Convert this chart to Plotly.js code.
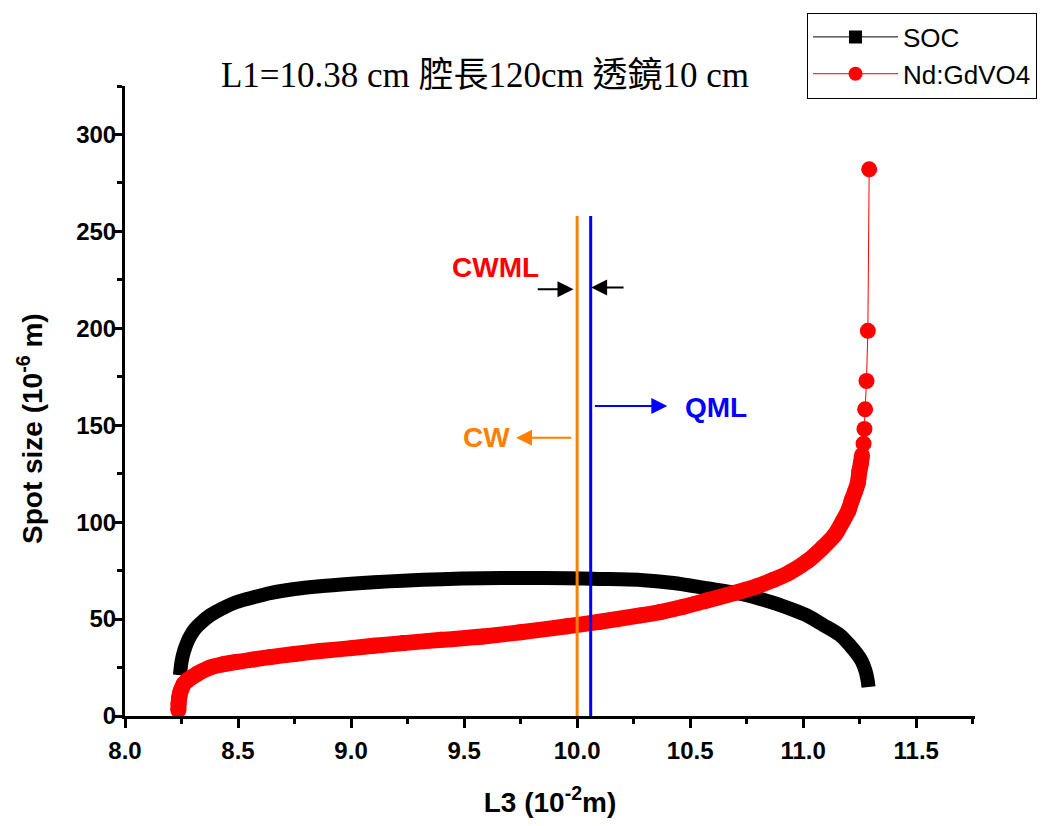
<!DOCTYPE html>
<html><head><meta charset="utf-8">
<script src="https://cdn.plot.ly/plotly-3.0.1.min.js"></script>
<style>html,body{margin:0;padding:0;background:#fff}#chart{width:1056px;height:826px}</style>
</head><body><div id="chart"></div><script>
// ---- data ----
const socX = [8.243, 8.250, 8.260, 8.275, 8.290, 8.310, 8.340, 8.376, 8.430, 8.494, 8.570, 8.642, 8.750, 8.863, 9.000, 9.100, 9.230, 9.400, 9.584, 9.750, 9.956, 10.100, 10.279, 10.426, 10.574, 10.721, 10.867, 10.950, 11.016, 11.088, 11.164, 11.210, 11.235, 11.258, 11.275, 11.285, 11.289];
const socY = [21.0, 28.0, 33.0, 38.0, 41.5, 45.0, 48.5, 51.9, 55.5, 58.8, 61.3, 63.4, 65.5, 66.9, 68.2, 69.0, 69.8, 70.6, 71.1, 71.2, 71.0, 70.7, 70.2, 68.6, 65.9, 63.1, 58.4, 55.0, 51.9, 47.0, 41.6, 36.0, 32.5, 28.5, 23.5, 18.5, 15.0];
const ndX = [8.236, 8.237, 8.240, 8.243, 8.250, 8.260, 8.275, 8.288, 8.320, 8.376, 8.430, 8.494, 8.570, 8.642, 8.750, 8.863, 9.000, 9.100, 9.230, 9.400, 9.584, 9.750, 9.956, 10.100, 10.279, 10.367, 10.470, 10.574, 10.700, 10.795, 10.870, 10.942, 11.020, 11.088, 11.140, 11.177, 11.200, 11.215, 11.230, 11.242, 11.249, 11.255, 11.260, 11.267, 11.271, 11.274, 11.280, 11.286, 11.292];
const ndY = [2.8, 6.5, 9.5, 11.6, 14.0, 16.5, 18.3, 19.4, 21.8, 25.0, 26.6, 27.9, 29.2, 30.4, 32.0, 33.5, 35.0, 36.2, 37.6, 39.3, 41.0, 43.2, 46.3, 48.6, 51.9, 53.6, 56.3, 59.6, 63.6, 66.9, 70.3, 74.2, 80.0, 87.1, 93.5, 100.9, 106.0, 111.3, 116.0, 120.5, 126.7, 130.2, 134.5, 140.5, 148.1, 158.2, 172.8, 198.7, 282.0];
const seriesNames = ['SOC', 'Nd:GdVO4'];
const titleText = 'L1=10.38 cm 腔長120cm 透鏡10 cm';
const xTitle = '<b>L3 (10<sup>-2</sup>m)</b>';
const yTitle = '<b>Spot size (10<sup>-6</sup> m)</b>';
const xTickVals = [8.0, 8.5, 9.0, 9.5, 10.0, 10.5, 11.0, 11.5];
const yTickVals = [0, 50, 100, 150, 200, 250, 300];
// marker lines (CW / QML boundaries) and annotation labels
const cwX = 10.0, qmlX = 10.06, markLineTop = 258;
const labelTexts = ['CWML', 'QML', 'CW'];
const labelX = [9.637, 10.613, 9.600];
const labelY = [231.3, 159.3, 143.8];
// arrows: tail [x, y] and head [x, y]
const arrowTail = [[9.819, 220.2], [10.212, 221.1], [10.072, 159.9], [9.981, 143.6]];
const arrowHead = [[9.984, 220.2], [10.062, 221.1], [10.399, 159.9], [9.730, 143.6]];
// ---------------------------------------------

const sansFont = 'Liberation Sans, Arial, Helvetica, sans-serif';
const denseLimit = 136; // red points above this are drawn sparse
const ndBandX = ndX.filter((v, i) => ndY[i] <= denseLimit);
const ndBandY = ndY.filter(v => v <= denseLimit);

const traces = [
  // SOC: dense squares drawn as a thick band
  {x: socX, y: socY, mode: 'lines', line: {color: '#000', width: 14, shape: 'spline', smoothing: 0.8}, showlegend: false, hoverinfo: 'skip'},
  // Nd:GdVO4: dense part as a band, plus every circle with the thin connecting line
  {x: ndBandX, y: ndBandY, mode: 'lines', line: {color: '#FF0000', width: 16, shape: 'spline', smoothing: 0.8}, showlegend: false, hoverinfo: 'skip'},
  {x: ndX, y: ndY, mode: 'lines+markers', line: {color: '#FF0000', width: 1},
   marker: {symbol: 'circle', size: 16, color: '#FF0000'}, showlegend: false},
  // legend entries
  {x: [null], y: [null], name: seriesNames[0], mode: 'lines+markers', line: {color: '#000', width: 1},
   marker: {symbol: 'square', size: 13, color: '#000'}},
  {x: [null], y: [null], name: seriesNames[1], mode: 'lines+markers', line: {color: '#FF0000', width: 1},
   marker: {symbol: 'circle', size: 14, color: '#FF0000'}}
];

const labelColors = ['#FF0000', '#0000FF', '#FF8000'];
const arrowColors = ['#000', '#000', '#0000FF', '#FF8000'];
const annotations = [];
labelTexts.forEach((t, i) => annotations.push({
  x: labelX[i], y: labelY[i], xref: 'x', yref: 'y', text: '<b>' + t + '</b>', showarrow: false,
  font: {family: sansFont, size: 28, color: labelColors[i]}, xanchor: 'center', yanchor: 'middle'
}));
arrowHead.forEach((h, i) => annotations.push({
  x: h[0], y: h[1], ax: arrowTail[i][0], ay: arrowTail[i][1], xref: 'x', yref: 'y', axref: 'x', ayref: 'y',
  text: '', showarrow: true, arrowhead: 2, arrowsize: 1.6, arrowwidth: 2, arrowcolor: arrowColors[i], standoff: 0
}));
// y-axis title (placed lower than the axis centre, as in the reference)
annotations.push({
  x: (30 - 125) / 850, y: (716 - 429) / 630, xref: 'paper', yref: 'paper', text: yTitle, showarrow: false,
  textangle: -90, font: {family: sansFont, size: 28, color: '#000'}, xanchor: 'center', yanchor: 'middle'
});

const layout = {
  width: 1056, height: 826,
  margin: {l: 125, r: 81, t: 86, b: 110, pad: 0},
  paper_bgcolor: '#fff', plot_bgcolor: 'rgba(0,0,0,0)',
  title: {text: titleText, x: 485 / 1056, xref: 'container', xanchor: 'center', y: 1 - 75 / 826, yref: 'container', yanchor: 'middle',
          font: {family: 'Liberation Serif, "Noto Sans CJK TC", serif', size: 35, color: '#000'}},
  xaxis: {range: [8, 11.76], tickvals: xTickVals, tickformat: '.1f', showgrid: false, zeroline: false,
          showline: true, linecolor: '#000', linewidth: 3, ticks: 'outside', ticklen: 9, tickwidth: 3, tickcolor: '#000',
          minor: {dtick: 0.25, tick0: 8, ticks: 'outside', ticklen: 5, tickwidth: 3, tickcolor: '#000'},
          tickfont: {family: sansFont, size: 24, color: '#000', weight: 'bold'}, ticklabelstandoff: 2,
          title: {text: xTitle, font: {family: sansFont, size: 28, color: '#000'}, standoff: 30}},
  yaxis: {range: [0, 325], tickvals: yTickVals, showgrid: false, zeroline: false,
          showline: true, linecolor: '#000', linewidth: 3, ticks: 'outside', ticklen: 9, tickwidth: 3, tickcolor: '#000',
          minor: {dtick: 25, tick0: 0, ticks: 'outside', ticklen: 5, tickwidth: 3, tickcolor: '#000'},
          tickfont: {family: sansFont, size: 24, color: '#000', weight: 'bold'}, ticklabelstandoff: -8},
  shapes: [
    {type: 'line', xref: 'x', yref: 'y', x0: cwX, x1: cwX, y0: 0, y1: markLineTop, line: {color: '#FF8000', width: 3}},
    {type: 'line', xref: 'x', yref: 'y', x0: qmlX, x1: qmlX, y0: 0, y1: markLineTop, line: {color: '#0000FF', width: 3}}
  ],
  annotations: annotations,
  legend: {x: (807 - 125) / 850, y: 1 + 73.5 / 630, xanchor: 'left', yanchor: 'top', bgcolor: '#fff',
           bordercolor: '#000', borderwidth: 1, font: {family: sansFont, size: 26, color: '#000'}, itemwidth: 85,
           tracegroupgap: 0}
};

Plotly.newPlot('chart', traces, layout, {displayModeBar: false, staticPlot: true});
</script></body></html>
